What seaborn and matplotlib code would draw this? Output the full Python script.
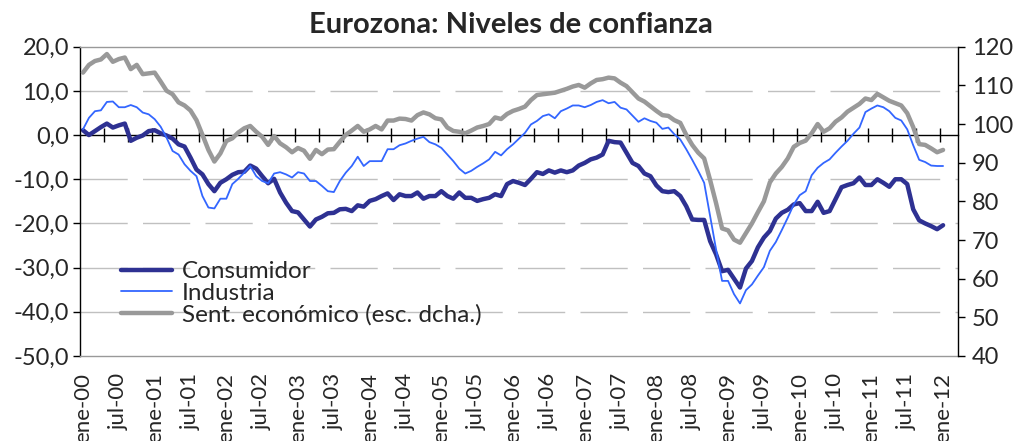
import numpy as np
import pandas as pd
import seaborn as sns
import matplotlib.pyplot as plt
from matplotlib.ticker import FuncFormatter

# monthly series, ene-00 .. ene-12
consumidor = [
    1.1, 0.0, 0.9, 1.8, 2.6, 1.7, 2.2, 2.6, -1.3, -0.6, -0.1, 0.9,
    1.1, 0.4, -0.1, -0.8, -2.1, -2.6, -5.1, -7.8, -8.9, -11.1, -12.7, -10.8,
    -10.0, -9.0, -8.4, -8.3, -6.9, -7.6, -9.3, -10.9, -9.9, -13.0, -15.3, -17.2,
    -17.5, -19.1, -20.7, -19.1, -18.5, -17.7, -17.6, -16.8, -16.7, -17.2, -15.9, -16.2,
    -14.9, -14.5, -13.8, -13.2, -14.7, -13.4, -13.8, -13.8, -13.0, -14.4, -13.8, -13.8,
    -12.7, -13.8, -14.4, -13.0, -14.2, -14.2, -14.9, -14.5, -14.2, -13.4, -13.8, -11.1,
    -10.4, -10.8, -11.3, -9.9, -8.4, -8.8, -8.0, -8.5, -8.0, -8.4, -8.0, -6.9,
    -6.3, -5.5, -5.1, -4.4, -1.3, -1.6, -1.7, -4.0, -6.3, -7.0, -8.7, -9.3,
    -11.4, -12.7, -12.9, -12.7, -13.8, -16.1, -19.1, -19.2, -19.2, -24.0, -27.0, -30.8,
    -30.5, -32.5, -34.5, -30.2, -28.5, -25.4, -23.2, -21.7, -18.9, -17.6, -16.9, -15.7,
    -15.4, -17.2, -17.2, -15.1, -17.6, -17.2, -14.5, -11.8, -11.3, -10.9, -9.6, -11.3,
    -11.3, -10.0, -10.8, -11.7, -10.0, -10.0, -11.1, -16.8, -19.3, -20.0, -20.6, -21.3,
    -20.4,
]
industria = [
    1.3, 3.9, 5.4, 5.6, 7.5, 7.6, 6.3, 6.3, 6.8, 6.3, 5.1, 4.7,
    3.6, 1.9, -0.6, -3.6, -4.4, -6.6, -8.1, -9.3, -13.8, -16.4, -16.6, -14.4,
    -14.4, -11.1, -9.9, -8.5, -7.0, -9.3, -10.4, -10.9, -8.7, -8.4, -8.9, -9.6,
    -8.4, -8.7, -10.4, -10.4, -11.5, -12.7, -12.9, -10.4, -8.5, -7.0, -4.9, -7.0,
    -5.9, -5.9, -5.9, -3.2, -3.2, -2.3, -1.9, -1.3, -0.8, -0.4, -1.6, -2.1,
    -2.9, -4.4, -5.9, -7.6, -8.7, -8.1, -7.2, -6.4, -5.5, -3.8, -4.6, -3.2,
    -2.1, -0.8, 0.5, 2.4, 3.2, 4.3, 4.7, 3.8, 5.4, 6.0, 6.7, 6.7,
    6.3, 6.8, 7.5, 7.9, 7.2, 7.5, 6.2, 5.8, 4.4, 3.0, 3.8, 3.2,
    2.8, 1.4, 1.7, 0.2, -1.0, -3.2, -5.6, -8.1, -10.8, -18.3, -25.9, -33.0,
    -33.0, -36.0, -38.1, -35.1, -33.8, -31.8, -29.9, -26.2, -24.2, -21.5, -18.7, -15.7,
    -13.6, -12.7, -9.1, -7.4, -6.3, -5.5, -4.0, -2.6, -1.3, 0.3, 1.7, 5.2,
    6.0, 6.7, 6.3, 5.4, 3.9, 3.3, 1.3, -2.3, -5.6, -6.1, -6.9, -7.0,
    -7.0,
]
sentimiento = [
    113.3, 115.3, 116.3, 116.7, 118.1, 116.1, 116.8, 117.2, 114.2, 115.3, 112.9, 113.1,
    113.3, 111.0, 108.6, 107.7, 105.6, 104.8, 103.5, 101.0, 97.2, 93.3, 90.3, 92.4,
    95.6, 96.3, 97.8, 98.9, 99.5, 98.0, 96.7, 94.6, 96.9, 95.0, 94.0, 92.7,
    93.8, 93.1, 91.0, 93.3, 92.2, 93.4, 93.5, 95.4, 97.2, 98.3, 99.5, 98.0,
    98.6, 99.5, 98.6, 100.9, 100.9, 101.4, 101.3, 100.9, 102.3, 103.0, 102.5, 101.5,
    101.2, 99.1, 98.2, 98.0, 97.6, 98.3, 99.1, 99.5, 100.0, 101.7, 101.3, 102.6,
    103.4, 103.9, 104.5, 106.2, 107.5, 107.7, 107.9, 108.1, 108.6, 109.1, 109.7, 110.1,
    109.4, 110.5, 111.4, 111.6, 112.0, 111.8, 110.7, 109.8, 108.2, 106.6, 105.8, 104.6,
    103.4, 102.3, 102.1, 101.0, 100.3, 97.2, 94.6, 92.6, 91.1, 85.5, 79.5, 73.0,
    72.5, 70.1, 69.3, 71.8, 74.3, 77.2, 80.0, 84.9, 87.2, 88.9, 91.1, 94.1,
    95.1, 95.7, 97.6, 100.0, 98.0, 98.9, 100.6, 101.7, 103.2, 104.2, 105.2, 106.6,
    106.2, 107.8, 106.9, 106.0, 105.4, 104.8, 102.8, 99.2, 94.8, 94.6, 93.7, 92.7,
    93.3,
]
tick_labels = [
    "ene-00", "jul-00", "ene-01", "jul-01", "ene-02", "jul-02", "ene-03", "jul-03",
    "ene-04", "jul-04", "ene-05", "jul-05", "ene-06", "jul-06", "ene-07", "jul-07",
    "ene-08", "jul-08", "ene-09", "jul-09", "ene-10", "jul-10", "ene-11", "jul-11",
    "ene-12",
]

df = pd.DataFrame({
    "mes": np.arange(len(consumidor)),
    "Consumidor": consumidor,
    "Industria": industria,
    "Sent. económico (esc. dcha.)": sentimiento,
})

sns.set_style("white")
plt.rcParams["font.family"] = ["Lato", "DejaVu Sans"]

fig = plt.figure(figsize=(10.17, 4.41), dpi=100)
ax = fig.add_axes([80 / 1017, 1 - 356 / 441, 878 / 1017, 309.3 / 441])
ax2 = ax.twinx()

sns.lineplot(data=df, x="mes", y="Consumidor", ax=ax, color="#2E3192", lw=3.2,
             label="Consumidor", legend=False)
sns.lineplot(data=df, x="mes", y="Industria", ax=ax, color="#3366FF", lw=1.3,
             label="Industria", legend=False)
sns.lineplot(data=df, x="mes", y="Sent. económico (esc. dcha.)", ax=ax2,
             color="#999999", lw=3.2, label="Sent. económico (esc. dcha.)", legend=False)

ax.set_xlim(-0.5, 146.5)
ax.set_ylim(-50, 20)
ax2.set_ylim(40, 120)
ax.set_xlabel("")
ax.set_ylabel("")
ax2.set_ylabel("")

# dashed horizontal grid
for v in range(-40, 20, 10):
    if v != 0:
        ax.axhline(v, color="#C0C0C0", lw=1, dashes=(34, 11), zorder=0)

ax.set_yticks(range(-50, 21, 10))
ax.yaxis.set_major_formatter(FuncFormatter(lambda v, p: f"{v:.1f}".replace(".", ",")))
ax2.set_yticks(range(40, 121, 10))
ax.set_xticks(range(0, 145, 6))
ax.set_xticklabels(tick_labels, rotation=90, ha="center", va="top")

ax.tick_params(axis="x", length=0, pad=12, labelsize=16)
ax.tick_params(axis="y", direction="out", length=5, width=1, color="black",
               pad=3, labelsize=17, left=True)
ax2.tick_params(axis="y", direction="out", length=5, width=1, color="black",
                pad=5, labelsize=17, right=True)

for a in (ax, ax2):
    for s in a.spines.values():
        s.set_linewidth(1)
ax.spines["left"].set_color("black")
ax.spines["right"].set_visible(False)
ax.spines["top"].set_color("#999999")
ax.spines["bottom"].set_color("#999999")
for s in ("left", "top", "bottom"):
    ax2.spines[s].set_visible(False)
ax2.spines["right"].set_color("black")

# zero line with crossing tick marks every 4 months
sec = ax.secondary_xaxis(50 / 70)
sec.set_xticks(np.arange(3.5, 146, 4))
sec.tick_params(axis="x", direction="inout", length=10, width=1, color="black",
                labeltop=False, labelbottom=False)
sec.spines["top"].set_color("black")
sec.spines["top"].set_linewidth(1)

handles = ax.get_lines()[:2] + ax2.get_lines()[:1]
fig.legend(handles, [h.get_label() for h in handles], loc="upper left",
           bbox_to_anchor=(121 / 1017, 1 - 261 / 441), frameon=False,
           fontsize=17.5, handlelength=2.1, handletextpad=0.4, labelspacing=0.03,
           borderpad=0, borderaxespad=0)

fig.text(0.502, 1 - 33 / 441, "Eurozona: Niveles de confianza", ha="center",
         va="baseline", fontsize=21, fontweight="bold")

plt.savefig("out.png", dpi=100)
